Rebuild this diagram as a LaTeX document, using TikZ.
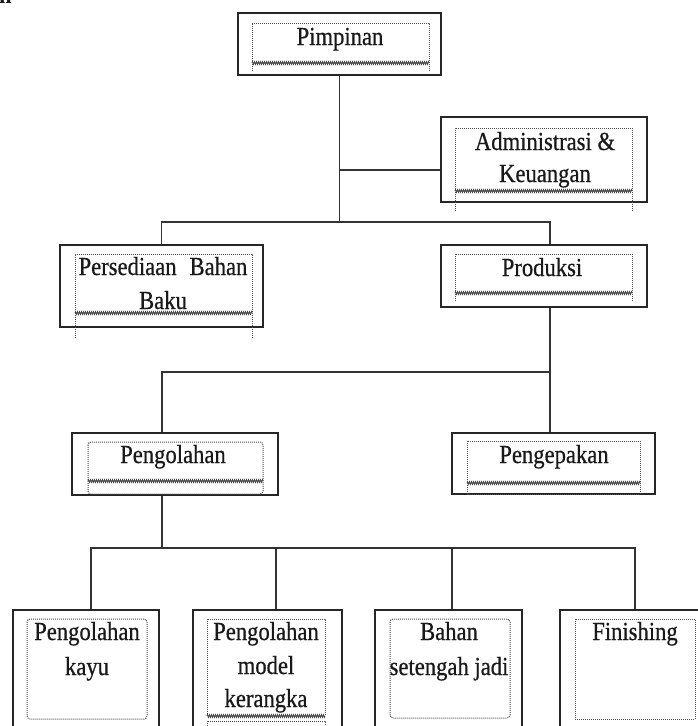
\documentclass[tikz,border=0pt]{standalone}
\usepackage{fontspec}
\setmainfont{Liberation Serif}[FakeStretch=0.87,FakeBold=0.6]
\newfontfamily\fragfont{Liberation Serif}[FakeStretch=0.87]
\usetikzlibrary{decorations.pathmorphing}
\begin{document}
\begin{tikzpicture}[x=1pt,y=-1pt,
  outer/.style={draw=black!85, line width=1.9pt, rectangle, inner sep=0pt},
  dotbox/.style={draw=black!70, line width=1pt, dash pattern=on 1pt off 1pt},
  wavy/.style={draw=black!70, line width=0.9pt, decorate, decoration={zigzag, segment length=2pt, amplitude=1.3pt}},
  conn/.style={draw=black!80, line width=1.9pt},
  lbl/.style={font=\fontsize{26}{33}\selectfont, text=black!90, inner sep=0pt, anchor=base}]
\useasboundingbox (0,0) rectangle (698,726);
% fragment of text cut at the top-left edge
\begin{scope}
\clip (0,0) rectangle (40,10);
\node[lbl, anchor=base west, font=\fontsize{26}{33}\fragfont\bfseries] (frag) at (-1,3) {n};
\end{scope}
% boxes
\node[outer, minimum width=203pt, minimum height=62pt] (pim) at (339.5,44) {};
\node[outer, minimum width=206pt, minimum height=85pt] (adm) at (544,159.5) {};
\node[outer, minimum width=203pt, minimum height=82pt] (per) at (161.5,286) {};
\node[outer, minimum width=206pt, minimum height=62pt] (pro) at (544,276) {};
\node[outer, minimum width=206pt, minimum height=62pt] (pgl) at (175,464) {};
\node[outer, minimum width=203pt, minimum height=61pt] (pgp) at (553.5,463.5) {};
\node[outer, minimum width=146pt, minimum height=150pt] (b1) at (86,685) {};
\node[outer, minimum width=149pt, minimum height=150pt] (b2) at (267.5,685) {};
\node[outer, minimum width=147pt, minimum height=150pt] (b3) at (448.5,685) {};
\node[outer, minimum width=147pt, minimum height=150pt] (b4) at (633.5,685) {};
% inner text frames
\draw[dotbox] (252,71) -- (252,23) -- (429,23) -- (429,71);
\draw[wavy] (252,63) -- (429,63);
\draw[dotbox] (455,211) -- (455,128) -- (632,128) -- (632,211);
\draw[wavy] (455,191) -- (632,191);
\draw[dotbox] (75,338) -- (75,254) -- (252,254) -- (252,338);
\draw[wavy] (75,313) -- (252,313);
\draw[dotbox] (455,301) -- (455,254) -- (632,254) -- (632,301);
\draw[wavy] (455,293) -- (632,293);
\draw[dotbox, rounded corners=3pt] (88,442) rectangle (263,494);
\draw[wavy] (88,481) -- (263,481);
\draw[dotbox] (467,441) rectangle (640,494);
\draw[wavy] (467,483) -- (640,483);
\draw[dotbox, rounded corners=3pt] (27,619) rectangle (147,719);
\draw[dotbox] (207,716) -- (207,619) -- (325,619) -- (325,716);
\draw[wavy] (207,716) -- (325,716);
\draw[dotbox] (207,740) -- (207,721) -- (325,721) -- (325,740);
\draw[dotbox, rounded corners=3pt] (390,619) rectangle (510,718);
\draw[dotbox] (575,619) rectangle (695,719);
% labels
\node[lbl] (tpim) at (340,45) {Pimpinan};
\node[lbl] (tadm1) at (545,150) {Administrasi \&};
\node[lbl] (tadm2) at (545,182) {Keuangan};
\node[lbl] (tper1) at (163,275) {Persediaan\hspace{0.5em}Bahan};
\node[lbl] (tper2) at (163,309) {Baku};
\node[lbl] (tpro) at (542,276) {Produksi};
\node[lbl] (tpgl) at (173,463) {Pengolahan};
\node[lbl] (tpgp) at (554,463) {Pengepakan};
\node[lbl] (tb1a) at (87,640) {Pengolahan};
\node[lbl] (tb1b) at (87,675) {kayu};
\node[lbl] (tb2a) at (266,640) {Pengolahan};
\node[lbl] (tb2b) at (266,674) {model};
\node[lbl] (tb2c) at (266,707) {kerangka};
\node[lbl] (tb3a) at (449,640) {Bahan};
\node[lbl] (tb3b) at (449,675) {setengah jadi};
\node[lbl] (tb4a) at (635,640) {Finishing};
% connector coordinates
\coordinate (h1) at (0,222);
\coordinate (ha) at (0,170);
\coordinate (h2) at (0,372);
\coordinate (h3) at (0,548);
\coordinate (cx1) at (162,0);
\coordinate (cx2) at (550,0);
\coordinate (cb1) at (91,0);
\coordinate (cb2) at (276,0);
\coordinate (cb3) at (452,0);
\coordinate (cb4) at (635,0);
% connectors
\draw[conn] (pim.south) -- (pim.south |- h1);
\draw[conn, line width=2.6pt] (pim.south |- ha) -- (adm.west |- ha);
\draw[conn] (per.north) -- (per.north |- h1) -- (cx2 |- h1) -- (cx2 |- pro.north);
\draw[conn] (cx2 |- pro.south) -- (cx2 |- h2);
\draw[conn] (cx1 |- pgl.north) -- (cx1 |- h2) -- (cx2 |- h2) -- (cx2 |- pgp.north);
\draw[conn] (cx1 |- pgl.south) -- (cx1 |- h3);
\draw[conn] (cb1 |- b1.north) -- (cb1 |- h3) -- (cb4 |- h3) -- (cb4 |- b4.north);
\draw[conn] (cb2 |- h3) -- (cb2 |- b2.north);
\draw[conn] (cb3 |- h3) -- (cb3 |- b3.north);
\end{tikzpicture}
\end{document}
